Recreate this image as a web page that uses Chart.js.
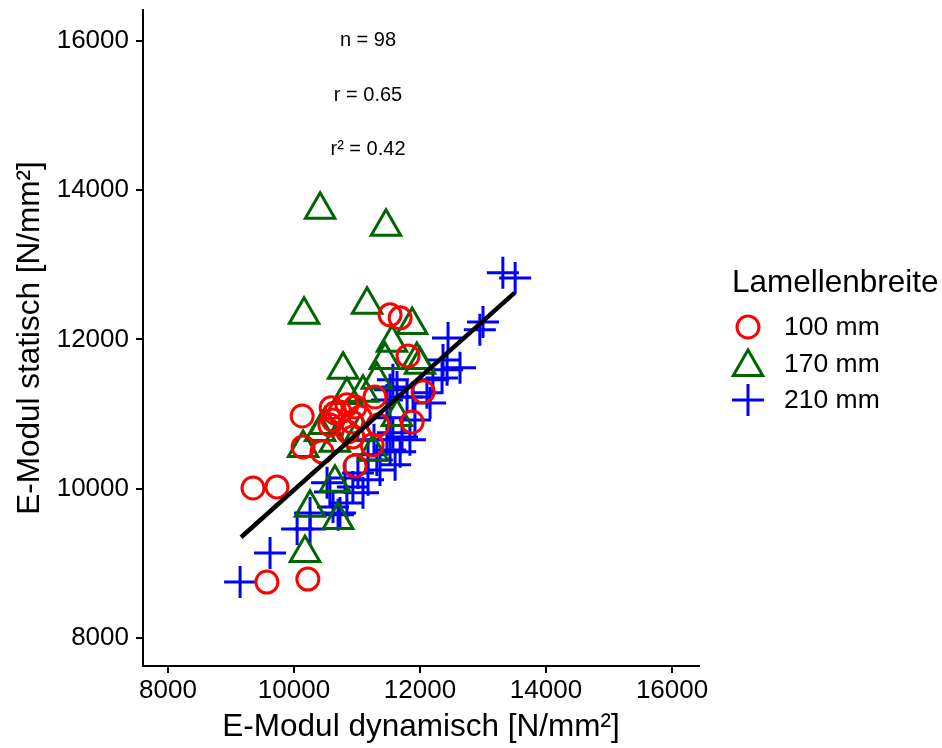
<!DOCTYPE html>
<html>
<head>
<meta charset="utf-8">
<script src="https://cdn.jsdelivr.net/npm/chart.js@4.4.1/dist/chart.umd.min.js"></script>
<style>
html,body{margin:0;padding:0;background:#fff;}
#wrap{width:942px;height:748px;position:relative;}
</style>
</head>
<body>
<div id="wrap"><canvas id="c" width="942" height="748"></canvas></div>
<script>
// ---- data ----
const seriesNames = ["100 mm", "170 mm", "210 mm"];
const legendTitle = "Lamellenbreite";
const xTitle = "E-Modul dynamisch [N/mm²]";
const yTitle = "E-Modul statisch [N/mm²]";
const xTickValues = [8000, 10000, 12000, 14000, 16000];
const yTickValues = [8000, 10000, 12000, 14000, 16000];

const x100 = [9350, 9730, 9570, 10220, 10130, 10145, 10445, 10590, 10650, 10620, 10840, 10970, 11285, 10570, 10920, 10935, 10855, 11335, 11240, 10970, 11875, 12050, 11525, 11685, 11810, 11050, 10730];
const y100 = [10010, 10025, 8750, 8790, 10975, 10560, 10495, 11085, 11015, 10920, 11125, 11095, 11230, 10855, 10895, 10695, 10760, 10855, 10585, 10305, 10895, 11300, 12330, 12290, 11780, 10960, 11030];

const x170 = [10415, 11460, 10160, 11160, 11875, 11555, 11950, 10780, 11445, 11315, 10840, 11095, 10490, 10415, 10145, 10650, 11255, 11635, 10650, 10255, 10700, 10175, 12000, 11050];
const y170 = [13740, 13510, 12330, 12465, 12195, 11955, 11725, 11595, 11725, 11460, 11255, 11285, 10855, 10760, 10545, 10615, 10495, 10960, 10080, 9745, 9580, 9140, 11660, 10760];

const x210 = [9145, 9620, 10050, 10255, 10700, 10620, 10840, 10730, 10570, 10525, 10935, 11095, 11015, 11315, 11525, 11715, 11525, 11475, 11635, 11795, 12110, 12205, 12430, 12365, 12635, 12445, 13000, 12950, 13315, 13510, 12350, 12160, 11890, 11570, 11525, 11570, 11475, 11685, 11365, 11175, 10810, 11920, 11840, 10255, 11605, 11270, 11175];
const y210 = [8750, 9140, 9460, 9460, 9650, 9755, 9810, 9675, 9955, 10080, 10025, 9945, 10210, 10385, 10520, 10695, 10950, 11190, 11365, 11230, 11285, 11460, 11595, 11725, 11620, 12020, 12235, 12130, 12895, 12825, 11485, 11150, 11230, 11460, 11325, 10750, 10655, 10495, 10250, 10120, 10145, 10920, 10655, 9675, 10320, 10655, 10455];

const fitX = [9160, 13500];
const fitY = [9350, 12625];

const annotations = ["n = 98", "r = 0.65", "r² = 0.42"];
const annotX = 11175;
const annotY = [16000, 15275, 14550];

// ---- build ----
const zip = (xs, ys) => xs.map((x, i) => ({x: x, y: ys[i]}));
const colors = ["#FF0000", "#006400", "#0000FF"];
const styles = ["circle", "triangle", "cross"];
const radii = [11, 17, 16];
const FONT = "'Liberation Sans', Arial, Helvetica, sans-serif";

function ptDataset(i, xs, ys, order) {
  return {
    type: 'scatter',
    label: seriesNames[i],
    data: zip(xs, ys),
    pointStyle: styles[i],
    pointRadius: radii[i],
    pointHoverRadius: radii[i],
    pointBorderColor: colors[i],
    pointBackgroundColor: 'rgba(0,0,0,0)',
    pointBorderWidth: 3,
    pointHoverBorderWidth: 3,
    showLine: false,
    order: order
  };
}

const overlay = {
  id: 'overlay',
  afterDraw(chart) {
    const ctx = chart.ctx;
    const xs = chart.scales.x, ys = chart.scales.y;
    ctx.save();
    ctx.fillStyle = '#000';
    ctx.textAlign = 'center';
    ctx.textBaseline = 'middle';
    ctx.font = "20px " + FONT;
    annotations.forEach((t, i) => {
      ctx.fillText(t, xs.getPixelForValue(annotX), ys.getPixelForValue(annotY[i]));
    });
    // legend
    ctx.textAlign = 'left';
    ctx.font = "31.5px " + FONT;
    ctx.fillText(legendTitle, 732, 283);
    ctx.font = "26.5px " + FONT;
    const rowY = [327, 364, 400];
    seriesNames.forEach((n, i) => {
      ctx.strokeStyle = colors[i];
      ctx.fillStyle = 'rgba(0,0,0,0)';
      ctx.lineWidth = 3;
      Chart.helpers.drawPoint(ctx, {pointStyle: styles[i], radius: radii[i], rotation: 0, borderWidth: 3}, 748, rowY[i] + (i === 1 ? 3 : 0));
      ctx.fillStyle = '#000';
      ctx.fillText(n, 784, rowY[i] + 1);
    });
    ctx.restore();
  }
};

new Chart(document.getElementById('c'), {
  type: 'scatter',
  data: {
    datasets: [
      ptDataset(0, x100, y100, 1),
      ptDataset(1, x170, y170, 2),
      ptDataset(2, x210, y210, 3),
      {
        type: 'line',
        label: 'fit',
        data: zip(fitX, fitY),
        borderColor: '#000',
        borderWidth: 4.5,
        pointRadius: 0,
        fill: false,
        order: 0
      }
    ]
  },
  options: {
    responsive: false,
    animation: false,
    events: [],
    layout: {autoPadding: false, padding: {top: 10, right: 243, bottom: 0, left: 0}},
    plugins: {legend: {display: false}, tooltip: {enabled: false}},
    scales: {
      x: {
        type: 'linear',
        min: 7604, max: 16428,
        afterFit(s) { s.height = 82; s.paddingLeft = 0; s.paddingRight = 0; s.paddingTop = 0; s.paddingBottom = 0; },
        afterBuildTicks(s) { s.ticks = xTickValues.map(v => ({value: v})); },
        grid: {display: true, drawOnChartArea: false, drawTicks: true, tickLength: 7, color: '#000', lineWidth: 2},
        border: {display: true, color: '#000', width: 2},
        ticks: {color: '#000', font: {family: FONT, size: 26}, padding: 2, maxRotation: 0, callback: v => String(v)},
        title: {display: true, text: xTitle, color: '#000', font: {family: FONT, size: 31.5}, padding: {top: 0, bottom: 2}}
      },
      y: {
        type: 'linear',
        min: 7625, max: 16415,
        afterFit(s) { s.width = 143; s.paddingLeft = 0; s.paddingRight = 0; s.paddingTop = 0; s.paddingBottom = 0; },
        afterBuildTicks(s) { s.ticks = yTickValues.map(v => ({value: v})); },
        grid: {display: true, drawOnChartArea: false, drawTicks: true, tickLength: 7, color: '#000', lineWidth: 2},
        border: {display: true, color: '#000', width: 2},
        ticks: {color: '#000', font: {family: FONT, size: 26}, padding: 7, callback: v => String(v)},
        title: {display: true, text: yTitle, color: '#000', font: {family: FONT, size: 31.5}, padding: {top: 11, bottom: 0}}
      }
    }
  },
  plugins: [overlay]
});
</script>
</body>
</html>
